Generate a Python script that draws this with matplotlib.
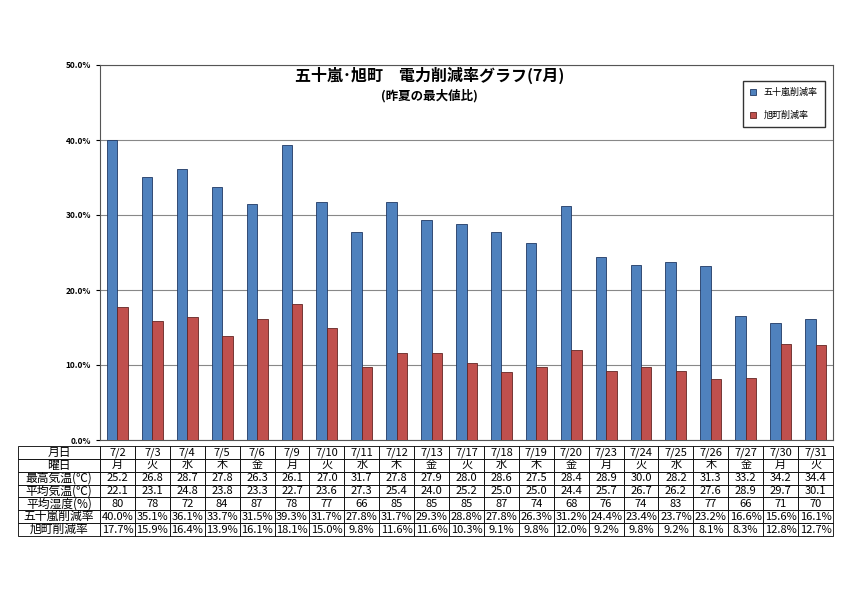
import matplotlib
matplotlib.use("Agg")
import matplotlib.pyplot as plt
import numpy as np

plt.rcParams['font.family'] = 'Noto Sans CJK JP'

dates = ["7/2","7/3","7/4","7/5","7/6","7/9","7/10","7/11","7/12","7/13","7/17","7/18","7/19","7/20","7/23","7/24","7/25","7/26","7/27","7/30","7/31"]
weekdays = ["月","火","水","木","金","月","火","水","木","金","火","水","木","金","月","火","水","木","金","月","火"]
max_temp = ["25.2","26.8","28.7","27.8","26.3","26.1","27.0","31.7","27.8","27.9","28.0","28.6","27.5","28.4","28.9","30.0","28.2","31.3","33.2","34.2","34.4"]
avg_temp = ["22.1","23.1","24.8","23.8","23.3","22.7","23.6","27.3","25.4","24.0","25.2","25.0","25.0","24.4","25.7","26.7","26.2","27.6","28.9","29.7","30.1"]
humidity = ["80","78","72","84","87","78","77","66","85","85","85","87","74","68","76","74","83","77","66","71","70"]
igarashi = [40.0,35.1,36.1,33.7,31.5,39.3,31.7,27.8,31.7,29.3,28.8,27.8,26.3,31.2,24.4,23.4,23.7,23.2,16.6,15.6,16.1]
asahi = [17.7,15.9,16.4,13.9,16.1,18.1,15.0,9.8,11.6,11.6,10.3,9.1,9.8,12.0,9.2,9.8,9.2,8.1,8.3,12.8,12.7]

fig = plt.figure(figsize=(8.5, 6), dpi=100)
ax = fig.add_axes([100/850, 1-440/600, 733/850, 375/600])
x = np.arange(len(dates))
w = 0.3
ax.bar(x - w/2, igarashi, w, color='#4F81BD', edgecolor='#1F3864', linewidth=0.6, label='五十嵐削減率', zorder=3)
ax.bar(x + w/2, asahi, w, color='#C0504D', edgecolor='#632523', linewidth=0.6, label='旭町削減率', zorder=3)
ax.set_xlim(-0.5, len(dates)-0.5)
ax.set_ylim(0, 50)
ax.set_yticks(range(0, 51, 10))
ax.set_yticklabels([f"{v:.1f}%" for v in range(0, 51, 10)], fontsize=6, fontweight='bold')
ax.tick_params(axis='y', length=3)
ax.set_xticks([])
ax.grid(axis='y', color='#888888', linewidth=0.8, zorder=0)
for s in ax.spines.values():
    s.set_color('#555555')
ax.text(0.45, 0.995, "五十嵐･旭町　電力削減率グラフ(7月)", transform=ax.transAxes, ha='center', va='top', fontsize=11.5, fontweight='bold')
ax.text(0.45, 0.935, "(昨夏の最大値比)", transform=ax.transAxes, ha='center', va='top', fontsize=9, fontweight='bold')
ax.legend(loc='upper right', fontsize=6.5, frameon=True, fancybox=False, edgecolor='black', borderpad=0.8, labelspacing=1.5, handlelength=0.7, handleheight=0.7, bbox_to_anchor=(0.995, 0.97))

tax = fig.add_axes([18/850, 1-536/600, 815/850, 90/600])
tax.axis('off')
rows = [["月日"] + dates, ["曜日"] + weekdays, ["最高気温(℃)"] + max_temp, ["平均気温(℃)"] + avg_temp,
        ["平均湿度(%)"] + humidity, ["五十嵐削減率"] + [f"{v:.1f}%" for v in igarashi], ["旭町削減率"] + [f"{v:.1f}%" for v in asahi]]
first = 82/815
cw = [first] + [(1-first)/len(dates)]*len(dates)
tbl = tax.table(cellText=rows, colWidths=cw, bbox=[0, 0, 1, 1], cellLoc='center')
tbl.auto_set_font_size(False)
for (r, c), cell in tbl.get_celld().items():
    cell.set_fontsize(8 if c > 0 else 8.5)
    cell.set_linewidth(0.6)
    cell.PAD = 0.02

fig.savefig("out.png", dpi=100)
